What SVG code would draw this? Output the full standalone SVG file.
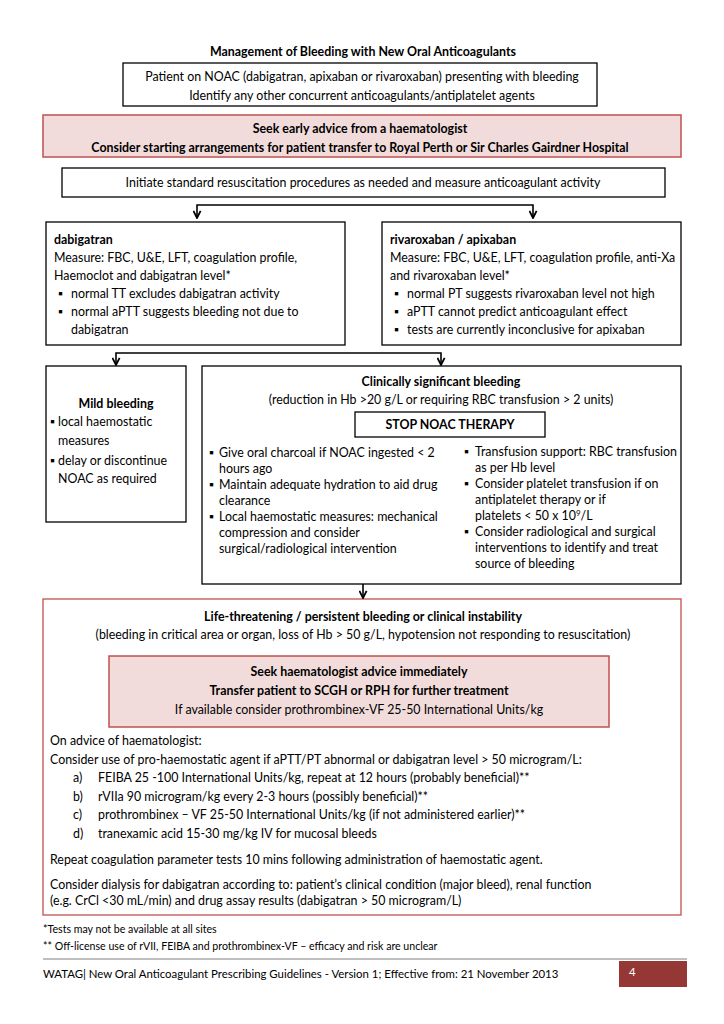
<svg xmlns="http://www.w3.org/2000/svg" width="724" height="1024" viewBox="0 0 724 1024">
<defs>
<style>
text{font-family:Lato,"Open Sans","Liberation Sans",sans-serif;font-size:12.4px;fill:#000}
.b{font-weight:bold}
.c{text-anchor:middle}
.s{font-size:10.6px}
.f{font-size:11.4px}
.box{fill:#fff;stroke:#000;stroke-width:1.3}
.pink{fill:#f2dcdb;stroke:#c0504d;stroke-width:1.5}
.red{fill:#fff;stroke:#c0504d;stroke-width:1.3}
.con{fill:none;stroke:#000;stroke-width:1.6}
</style>
<marker id="ah" viewBox="0 0 10 10" refX="9" refY="5" markerWidth="9" markerHeight="9" markerUnits="userSpaceOnUse" orient="auto-start-reverse">
<path d="M1,1 L9,5 L1,9" fill="none" stroke="#000" stroke-width="2"/>
</marker>
</defs>
<rect width="724" height="1024" fill="#fff"/>

<text class="b c" x="363" y="56">Management of Bleeding with New Oral Anticoagulants</text>

<g id="patient">
<rect class="box" x="123" y="63" width="474" height="43"/>
<text class="c" x="362" y="81">Patient on NOAC (dabigatran, apixaban or rivaroxaban) presenting with bleeding</text>
<text class="c" x="362" y="100">Identify any other concurrent anticoagulants/antiplatelet agents</text>
</g>

<g id="advice">
<rect class="pink" x="43" y="115" width="638" height="42"/>
<text class="b c" x="360" y="133">Seek early advice from a haematologist</text>
<text class="b c" x="360" y="152">Consider starting arrangements for patient transfer to Royal Perth or Sir Charles Gairdner Hospital</text>
</g>

<g id="initiate">
<rect class="box" x="62" y="168" width="603" height="29"/>
<text class="c" x="363" y="187">Initiate standard resuscitation procedures as needed and measure anticoagulant activity</text>
</g>

<g id="dabigatran">
<rect class="box" x="46" y="222" width="299" height="123"/>
<text class="b" x="54" y="244">dabigatran</text>
<text x="54" y="262">Measure: FBC, U&amp;E, LFT, coagulation profile,</text>
<text x="54" y="280">Haemoclot and dabigatran level*</text>
<text x="58" y="298">▪</text><text x="71" y="298">normal TT excludes dabigatran activity</text>
<text x="58" y="316">▪</text><text x="71" y="316">normal aPTT suggests bleeding not due to</text>
<text x="71" y="334">dabigatran</text>
</g>

<g id="rivaroxaban">
<rect class="box" x="382" y="222" width="299" height="123"/>
<text class="b" x="390" y="244">rivaroxaban / apixaban</text>
<text x="390" y="262">Measure: FBC, U&amp;E, LFT, coagulation profile, anti-Xa</text>
<text x="390" y="280">and rivaroxaban level*</text>
<text x="394" y="298">▪</text><text x="407" y="298">normal PT suggests rivaroxaban level not high</text>
<text x="394" y="316">▪</text><text x="407" y="316">aPTT cannot predict anticoagulant effect</text>
<text x="394" y="334">▪</text><text x="407" y="334">tests are currently inconclusive for apixaban</text>
</g>

<g id="mild">
<rect class="box" x="46" y="366" width="140" height="156"/>
<text class="b c" x="116" y="408">Mild bleeding</text>
<text x="50" y="426">▪</text><text x="58" y="426">local haemostatic</text>
<text x="58" y="445">measures</text>
<text x="50" y="465">▪</text><text x="58" y="465">delay or discontinue</text>
<text x="58" y="483">NOAC as required</text>
</g>

<g id="clinical">
<rect class="box" x="202" y="366" width="479" height="218"/>
<text class="b c" x="441" y="386">Clinically significant bleeding</text>
<text class="c" x="441" y="404">(reduction in Hb &gt;20 g/L or requiring RBC transfusion &gt; 2 units)</text>
<rect class="box" x="355" y="412" width="190" height="25"/>
<text class="b c" x="450" y="429">STOP NOAC THERAPY</text>
<text x="209" y="457">▪</text><text x="219" y="457">Give oral charcoal if NOAC ingested &lt; 2</text>
<text x="219" y="473">hours ago</text>
<text x="209" y="489">▪</text><text x="219" y="489">Maintain adequate hydration to aid drug</text>
<text x="219" y="505">clearance</text>
<text x="209" y="521">▪</text><text x="219" y="521">Local haemostatic measures: mechanical</text>
<text x="219" y="537">compression and consider</text>
<text x="219" y="553">surgical/radiological intervention</text>
<text x="464" y="456">▪</text><text x="475" y="456">Transfusion support: RBC transfusion</text>
<text x="475" y="472">as per Hb level</text>
<text x="464" y="488">▪</text><text x="475" y="488">Consider platelet transfusion if on</text>
<text x="475" y="504">antiplatelet therapy or if</text>
<text x="475" y="520">platelets &lt; 50 x 10<tspan dy="-4" font-size="8">9</tspan><tspan dy="4">/L</tspan></text>
<text x="464" y="536">▪</text><text x="475" y="536">Consider radiological and surgical</text>
<text x="475" y="552">interventions to identify and treat</text>
<text x="475" y="568">source of bleeding</text>
</g>

<g id="life">
<rect class="red" x="43" y="599" width="638" height="316"/>
<text class="b c" x="363" y="621">Life-threatening / persistent bleeding or clinical instability</text>
<text class="c" x="363" y="639">(bleeding in critical area or organ, loss of Hb &gt; 50 g/L, hypotension not responding to resuscitation)</text>
<rect class="pink" x="109" y="656" width="500" height="71"/>
<text class="b c" x="359" y="676">Seek haematologist advice immediately</text>
<text class="b c" x="359" y="695">Transfer patient to SCGH or RPH for further treatment</text>
<text class="c" x="359" y="714">If available consider prothrombinex-VF 25-50 International Units/kg</text>
<text x="50" y="745">On advice of haematologist:</text>
<text x="50" y="764">Consider use of pro-haemostatic agent if aPTT/PT abnormal or dabigatran level &gt; 50 microgram/L:</text>
<text x="73" y="782">a)</text><text x="98" y="782">FEIBA 25 -100 International Units/kg, repeat at 12 hours (probably beneficial)**</text>
<text x="73" y="801">b)</text><text x="98" y="801">rVIIa 90 microgram/kg every 2-3 hours (possibly beneficial)**</text>
<text x="73" y="819">c)</text><text x="98" y="819">prothrombinex – VF 25-50 International Units/kg (if not administered earlier)**</text>
<text x="73" y="838">d)</text><text x="98" y="838">tranexamic acid 15-30 mg/kg IV for mucosal bleeds</text>
<text x="50" y="864">Repeat coagulation parameter tests 10 mins following administration of haemostatic agent.</text>
<text x="50" y="889">Consider dialysis for dabigatran according to: patient’s clinical condition (major bleed), renal function</text>
<text x="50" y="905">(e.g.  CrCl &lt;30 mL/min) and drug assay results (dabigatran &gt; 50 microgram/L)</text>
</g>

<g id="connectors">
<path class="con" marker-start="url(#ah)" marker-end="url(#ah)" d="M197,218 V205 H533 V218"/>
<path class="con" marker-start="url(#ah)" marker-end="url(#ah)" d="M116,365 V353 H441 V365"/>
<path class="con" marker-end="url(#ah)" d="M363,584 V598"/>
</g>

<g id="footnotes">
<text class="s" x="43" y="933">*Tests may not be available at all sites</text>
<text class="s" x="43" y="950">** Off-license use of rVII, FEIBA and prothrombinex-VF – efficacy and risk are unclear</text>
</g>

<g id="footer">
<line x1="43" y1="959" x2="687" y2="959" stroke="#7f7f7f" stroke-width="1"/>
<text class="f" x="43" y="978">WATAG| New Oral Anticoagulant Prescribing Guidelines - Version 1; Effective from: 21 November 2013</text>
<rect x="619" y="961" width="68" height="26" fill="#953735"/>
<text class="f" x="629" y="976" style="fill:#fff">4</text>
</g>
</svg>
